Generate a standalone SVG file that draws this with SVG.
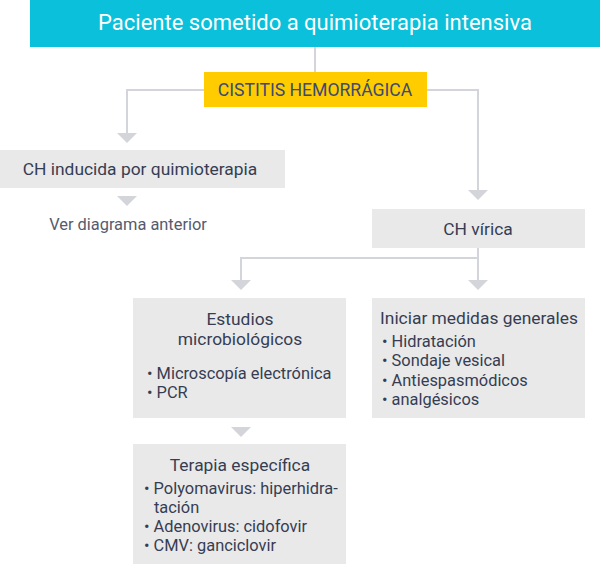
<svg xmlns="http://www.w3.org/2000/svg" width="600" height="564" viewBox="0 0 600 564">
<style>
text{font-family:Roboto,"Liberation Sans",sans-serif;}
.box{fill:#e9e9e9;}
.t{font-size:17.4px;fill:#363d52;}
.b{font-size:16.4px;fill:#363d52;}
.ln{fill:none;stroke:#d4d5da;stroke-width:2;}
.ah{fill:#d4d5da;}
</style>
<rect width="600" height="564" fill="#ffffff"/>
<g id="connectors">
<path class="ln" d="M315,47 V72"/>
<path class="ln" d="M204,90 H127 V134"/>
<path class="ln" d="M427,90 H478 V191"/>
<path class="ln" d="M478,248 V281 M478,258 H241 V281"/>
<polygon class="ah" points="117,133 137,133 127,143"/>
<polygon class="ah" points="117,196 137,196 127,206"/>
<polygon class="ah" points="468,190 488,190 478,200"/>
<polygon class="ah" points="231,280 251,280 241,290"/>
<polygon class="ah" points="468,280 488,280 478,290"/>
<polygon class="ah" points="231,427 251,427 241,437"/>
</g>
<g id="top">
<rect x="30" y="0" width="570" height="47" fill="#0bc0da"/>
<text x="315" y="30" font-size="22" fill="#ffffff" text-anchor="middle">Paciente sometido a quimioterapia intensiva</text>
</g>
<g id="cistitis">
<rect x="204" y="72" width="223" height="35" fill="#ffcc00"/>
<text x="315" y="96" font-size="17.6" fill="#3a4a72" text-anchor="middle">CISTITIS HEMORRÁGICA</text>
</g>
<g id="inducida">
<rect class="box" x="0" y="150" width="285" height="38"/>
<text class="t" x="140" y="175" text-anchor="middle">CH inducida por quimioterapia</text>
</g>
<g id="ver">
<text x="128" y="230" font-size="16.4" fill="#555b6c" text-anchor="middle">Ver diagrama anterior</text>
</g>
<g id="virica">
<rect class="box" x="372" y="209" width="213" height="39"/>
<text class="t" x="478" y="235" text-anchor="middle">CH vírica</text>
</g>
<g id="estudios">
<rect class="box" x="133" y="298" width="213" height="120"/>
<text class="t" x="240" y="325" text-anchor="middle">Estudios</text>
<text class="t" x="240" y="345" text-anchor="middle">microbiológicos</text>
<text class="b" x="147" y="379">• Microscopía electrónica</text>
<text class="b" x="147" y="398">• PCR</text>
</g>
<g id="medidas">
<rect class="box" x="372" y="298" width="213" height="120"/>
<text class="t" x="479" y="324" text-anchor="middle">Iniciar medidas generales</text>
<text class="b" x="382" y="347">• Hidratación</text>
<text class="b" x="382" y="366">• Sondaje vesical</text>
<text class="b" x="382" y="386">• Antiespasmódicos</text>
<text class="b" x="382" y="405">• analgésicos</text>
</g>
<g id="terapia">
<rect class="box" x="133" y="444" width="213" height="120"/>
<text class="t" x="240" y="471" text-anchor="middle">Terapia específica</text>
<text class="b" x="144" y="494">• Polyomavirus: hiperhidra-</text>
<text class="b" x="154" y="513">tación</text>
<text class="b" x="144" y="532">• Adenovirus: cidofovir</text>
<text class="b" x="144" y="551">• CMV: ganciclovir</text>
</g>
</svg>
